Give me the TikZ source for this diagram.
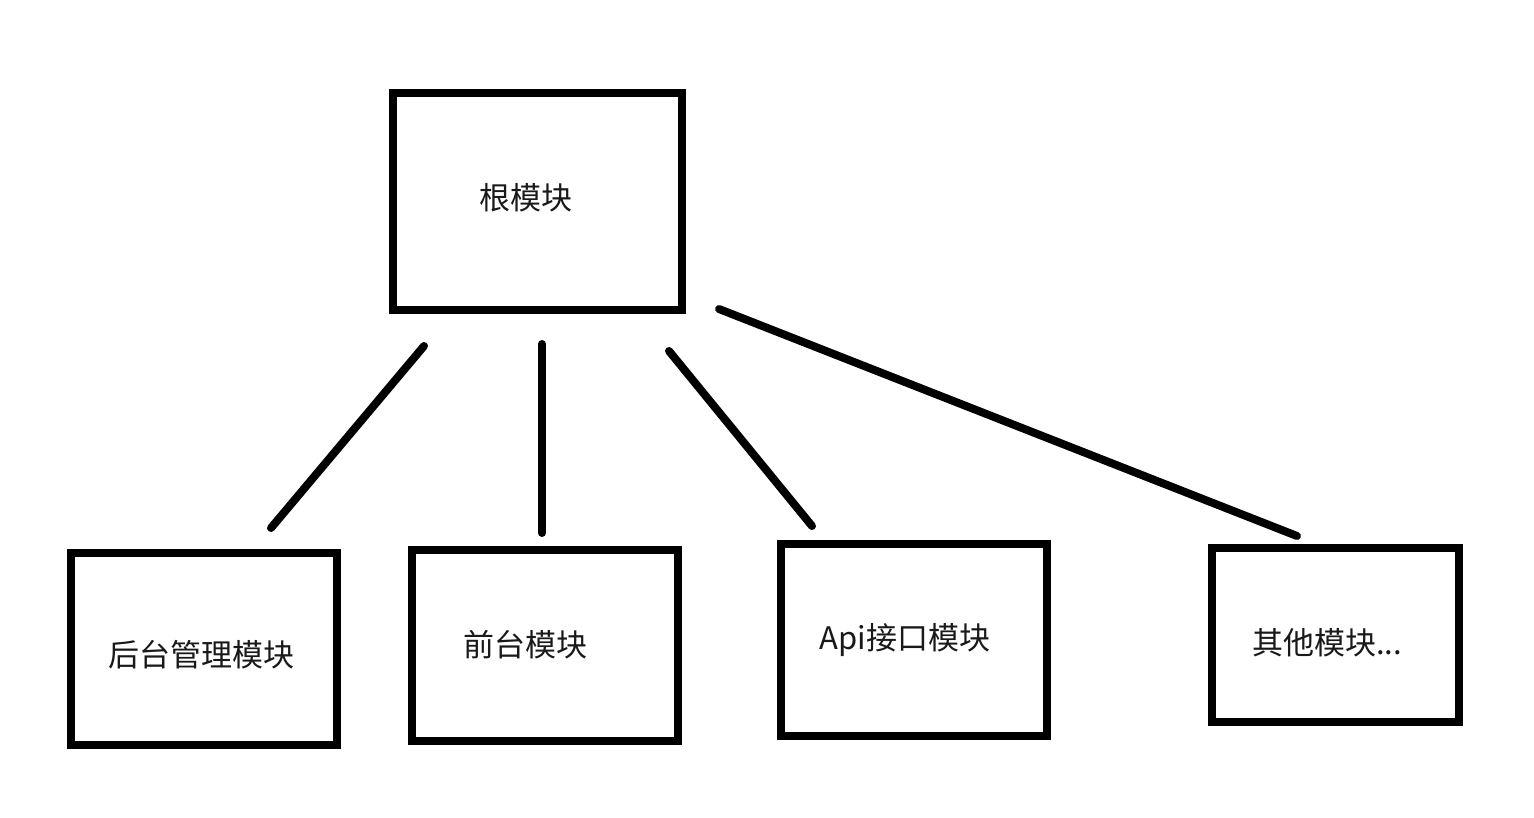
\documentclass[tikz,border=0pt]{standalone}
\usepackage{fontspec}
\setmainfont{Noto Sans CJK SC}
\begin{document}
\begin{tikzpicture}[x=1pt,y=-1pt,
  box/.style={draw=black,line width=8pt,fill=white,inner sep=0pt},
  conn/.style={draw=black,line width=8pt,line cap=round},
  lbl/.style={font=\fontsize{31}{34}\selectfont,inner sep=0pt,text=black!90}]
\useasboundingbox[fill=white] (0,0) rectangle (1534,818);
% boxes
\node[box,minimum width=289pt,minimum height=217pt] (root) at (537.5,201.5) {};
\node[box,minimum width=266pt,minimum height=192pt] (b1) at (204,649) {};
\node[box,minimum width=266pt,minimum height=191pt] (b2) at (545,645.5) {};
\node[box,minimum width=266pt,minimum height=192pt] (b3) at (914,640) {};
\node[box,minimum width=247pt,minimum height=174pt] (b4) at (1335.5,635) {};
% labels
\node[lbl] (t0) at (526,198) {根模块};
\node[lbl] (t1) at (201,655) {后台管理模块};
\node[lbl] (t2) at (525,645) {前台模块};
\node[lbl] (t3) at (905,640) {Api接口模块};
\node[lbl] (t4) at (1327,643) {其他模块...};
% connector end points
\coordinate (a1) at (424,346); \coordinate (c1) at (271,528);
\coordinate (a2) at (542,344); \coordinate (c2) at (542,533);
\coordinate (a3) at (669,351); \coordinate (c3) at (812,526);
\coordinate (a4) at (719,309); \coordinate (c4) at (1297,536);
\draw[conn] (a1) -- (c1);
\draw[conn] (a2) -- (c2);
\draw[conn] (a3) -- (c3);
\draw[conn] (a4) -- (c4);
\end{tikzpicture}
\end{document}
